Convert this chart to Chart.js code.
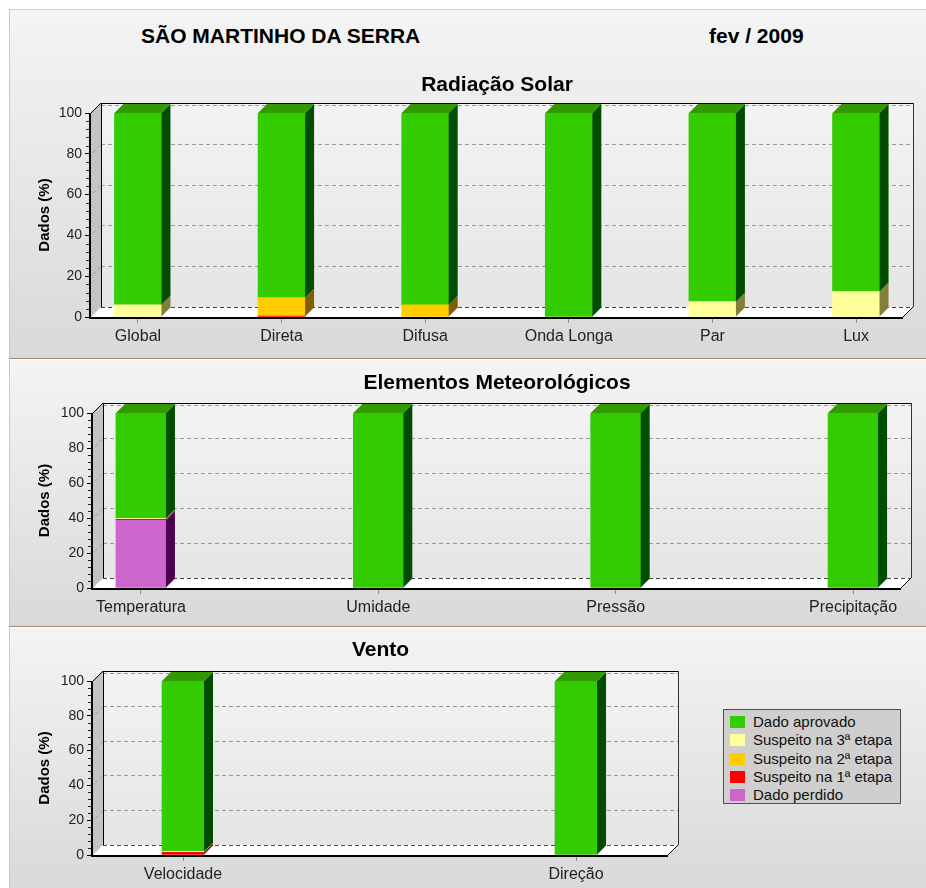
<!DOCTYPE html>
<html>
<head>
<meta charset="utf-8">
<script src="https://cdn.jsdelivr.net/npm/chart.js@4.4.1/dist/chart.umd.min.js"></script>
<style>
  body { margin: 0; background: #fff; font-family: "Liberation Sans", Arial, sans-serif; }
  #wrap { position: relative; width: 926px; height: 888px; overflow: hidden; }
  .panel { position: absolute; left: 9px; width: 917px; box-sizing: border-box;
           background: linear-gradient(#f4f4f4, #d9d9d9); border-left: 1px solid #c8c8c8; }
  #p1 { top: 9px; height: 349px; border-top: 1px solid #d2d2d2; }
  #p2 { top: 360px; height: 266px; }
  #p3 { top: 628px; height: 260px; }
  .sep { position: absolute; left: 9px; width: 917px; height: 1px; background: #a08878; }
  .hdr { position: absolute; top: 24px; font-weight: bold; font-size: 21px; line-height: 24px; color: #000; }
  canvas { position: absolute; left: 9px; }
  #legend { position: absolute; left: 723px; top: 709px; width: 178px; height: 95px; box-sizing: border-box;
            background: #cfcfcf; border: 1px solid #505050; }
  .li { position: absolute; left: 6px; height: 19px; line-height: 19px; font-size: 15px; color: #111; white-space: nowrap; }
  .li span { display: inline-block; width: 15px; height: 12px; margin-right: 8px; vertical-align: -1px; }
</style>
</head>
<body>
<div id="wrap">
  <div class="panel" id="p1"></div>
  <div class="sep" style="top:358px"></div>
  <div class="panel" id="p2"></div>
  <div class="sep" style="top:626px"></div>
  <div class="panel" id="p3"></div>
  <div class="hdr" style="left:141px">SÃO MARTINHO DA SERRA</div>
  <div class="hdr" style="left:709px">fev / 2009</div>
  <canvas id="c1" width="917" height="300" style="top:58px"></canvas>
  <canvas id="c2" width="917" height="266" style="top:360px"></canvas>
  <canvas id="c3" width="917" height="260" style="top:628px"></canvas>
  <div id="legend"></div>
</div>
<script>
// series, bottom of stack first
const seriesNames = ['Dado perdido', 'Suspeito na 1ª etapa', 'Suspeito na 2ª etapa', 'Suspeito na 3ª etapa', 'Dado aprovado'];
const frontColors = ['#cc66cc', '#ff0000', '#ffcc00', '#ffff99', '#33cc00'];
const sideColors = ['#4d004d', '#800000', '#805f00', '#80803a', '#004d00'];
const topColors = ['#993399', '#cc0000', '#cc9900', '#cccc77', '#339900'];

const yTicks = [0, 20, 40, 60, 80, 100];

// Radiação Solar
const solarCats = ['Global', 'Direta', 'Difusa', 'Onda Longa', 'Par', 'Lux'];
const solarPerdido = [0, 0, 0, 0, 0, 0];
const solar1a = [0, 0.5, 0, 0, 0, 0];
const solar2a = [0, 9, 6, 0, 0, 0];
const solar3a = [6, 0, 0, 0, 7.5, 12.5];
const solarAprovado = [94, 90.5, 94, 100, 92.5, 87.5];

// Elementos Meteorológicos
const meteoCats = ['Temperatura', 'Umidade', 'Pressão', 'Precipitação'];
const meteoPerdido = [38.6, 0, 0, 0];
const meteo1a = [0.6, 0, 0, 0];
const meteo2a = [0, 0, 0, 0];
const meteo3a = [0.6, 0, 0, 0];
const meteoAprovado = [60.2, 100, 100, 100];

// Vento
const ventoCats = ['Velocidade', 'Direção'];
const ventoPerdido = [0, 0];
const vento1a = [1.5, 0];
const vento2a = [0, 0];
const vento3a = [0.5, 0];
const ventoAprovado = [98, 100];

function poly(ctx, pts) {
  ctx.beginPath();
  ctx.moveTo(pts[0][0], pts[0][1]);
  for (let i = 1; i < pts.length; i++) ctx.lineTo(pts[i][0], pts[i][1]);
  ctx.closePath();
  ctx.fill();
}

function line(ctx, x1, y1, x2, y2) {
  ctx.beginPath();
  ctx.moveTo(x1, y1);
  ctx.lineTo(x2, y2);
  ctx.stroke();
}

// fake 3D: walls and floor behind the bars, side/top faces after them
const threeD = {
  id: 'threeD',
  beforeDatasetsDraw(chart, args, opts) {
    const { ctx, chartArea: a, scales: { y } } = chart;
    const d = opts.wall;
    const L = Math.round(a.left), R = Math.round(a.right), T = Math.round(a.top), B = Math.round(a.bottom);
    ctx.save();
    // back wall
    const g = ctx.createLinearGradient(0, T - d, 0, B - d);
    g.addColorStop(0, '#f3f3f3');
    g.addColorStop(1, '#e5e5e5');
    ctx.fillStyle = g;
    ctx.fillRect(L + d, T - d, R - L, B - T);
    // left wall
    ctx.fillStyle = '#c4c4c4';
    poly(ctx, [[L, B], [L, T], [L + d, T - d], [L + d, B - d]]);
    // floor
    ctx.fillStyle = '#ffffff';
    poly(ctx, [[L, B], [L + d, B - d], [R + d, B - d], [R, B]]);

    // grid lines on the back wall
    ctx.lineWidth = 1;
    ctx.setLineDash([4, 3]);
    yTicks.forEach(v => {
      const py = Math.round(y.getPixelForValue(v)) - d + 0.5;
      if (v === 0) {
        ctx.strokeStyle = '#444';
        line(ctx, L + d, py, R + d, py);
      } else {
        ctx.strokeStyle = '#9a9a9a';
        line(ctx, L + d, v === 100 ? py + 2 : py, R + d, v === 100 ? py + 2 : py);
        line(ctx, L + 2, py + d - 2, L + d, py);
      }
    });
    ctx.setLineDash([]);

    // wall edges
    ctx.strokeStyle = '#000';
    line(ctx, L + d + 0.5, T - d, L + d + 0.5, B - d);
    line(ctx, L + d, T - d + 0.5, R + d, T - d + 0.5);
    ctx.strokeStyle = '#333';
    line(ctx, R + d + 0.5, T - d, R + d + 0.5, B - d);
    ctx.strokeStyle = '#000';
    line(ctx, L, T, L + d, T - d);
    line(ctx, R, B, R + d, B - d);
    ctx.restore();
  },
  afterDatasetsDraw(chart, args, opts) {
    const { ctx, chartArea: a, scales: { y } } = chart;
    const bd = opts.bar;
    const sets = chart.data.datasets;
    const n = sets[0].data.length;
    const topIdx = new Array(n).fill(-1);
    sets.forEach((ds, di) => ds.data.forEach((p, i) => { if (p.y > 0) topIdx[i] = di; }));
    ctx.save();
    sets.forEach((ds, di) => {
      chart.getDatasetMeta(di).data.forEach((el, i) => {
        if (!(ds.data[i].y > 0)) return;
        const { x, y: top, base, width } = el.getProps(['x', 'y', 'base', 'width'], true);
        const l = x - width / 2, r = x + width / 2;
        ctx.fillStyle = ds.sideColor;
        poly(ctx, [[r, top], [r + bd, top - bd], [r + bd, base - bd], [r, base]]);
        if (topIdx[i] === di) {
          ctx.fillStyle = ds.topColor;
          poly(ctx, [[l, top], [l + bd, top - bd], [r + bd, top - bd], [r, top]]);
        }
      });
    });
    // front frame: axis and floor edge
    const L = Math.round(a.left), R = Math.round(a.right), T = Math.round(a.top), B = Math.round(a.bottom);
    ctx.strokeStyle = '#000';
    ctx.lineWidth = 2;
    line(ctx, L - 1, T, L - 1, B + 2);
    line(ctx, L - 2, B + 1, R, B + 1);
    // minor ticks
    ctx.lineWidth = 1;
    ctx.strokeStyle = '#222';
    for (let v = 4; v < 100; v += 4) {
      if (v % 20 === 0) continue;
      const py = Math.round(y.getPixelForValue(v)) + 0.5;
      line(ctx, L - 5, py, L - 2, py);
    }
    ctx.restore();
  }
};

Chart.register(threeD);

function makeChart(id, cats, series, cfg) {
  const datasets = series.map((vals, k) => ({
    label: seriesNames[k],
    // zero segments are left out so nothing is painted for them
    data: vals.map((v, i) => ({ x: i, y: v > 0 ? v : null })),
    backgroundColor: frontColors[k],
    sideColor: sideColors[k],
    topColor: topColors[k],
    borderWidth: 0,
    barThickness: cfg.barWidth
  }));
  return new Chart(document.getElementById(id), {
    type: 'bar',
    data: { datasets },
    options: {
      responsive: false,
      animation: false,
      layout: { padding: { left: 0, right: cfg.padRight, top: 0, bottom: 0 } },
      plugins: {
        legend: { display: false },
        tooltip: { enabled: false },
        title: {
          display: true,
          text: cfg.title,
          fullSize: false,
          color: '#000',
          font: { family: '"Liberation Sans", Arial, sans-serif', size: 21, weight: 'bold' },
          padding: { top: cfg.titleTop, bottom: cfg.titleBottom }
        },
        threeD: { wall: 10, bar: 9 }
      },
      scales: {
        x: {
          type: 'linear',
          stacked: true,
          offset: false,
          min: cfg.xMin,
          max: cfg.xMax,
          afterBuildTicks: s => { s.ticks = cats.map((c, i) => ({ value: i })); },
          afterFit: s => { s.height = cfg.xHeight; },
          border: { display: false },
          grid: { offset: false, drawOnChartArea: false, drawTicks: true, tickLength: 6, color: '#8a8a8a' },
          ticks: {
            callback: v => cats[v] ?? '',
            autoSkip: false,
            maxRotation: 0,
            padding: 4,
            color: '#222',
            font: { family: '"Liberation Sans", Arial, sans-serif', size: 16 }
          }
        },
        y: {
          stacked: true,
          min: 0,
          max: 100,
          afterBuildTicks: s => { s.ticks = yTicks.map(v => ({ value: v })); },
          afterFit: s => { s.width = cfg.yWidth; },
          border: { display: false },
          grid: { drawOnChartArea: false, drawTicks: true, tickLength: 6, color: '#000' },
          ticks: {
            padding: 3,
            color: '#222',
            font: { family: '"Liberation Sans", Arial, sans-serif', size: 14 }
          },
          title: {
            display: true,
            text: 'Dados (%)',
            color: '#000',
            font: { family: '"Liberation Sans", Arial, sans-serif', size: 15, weight: 'bold' },
            padding: { top: 27, bottom: 0 }
          }
        }
      }
    }
  });
}

makeChart('c1', solarCats, [solarPerdido, solar1a, solar2a, solar3a, solarAprovado], {
  title: 'Radiação Solar', titleTop: 14.4, titleBottom: 15.4, xHeight: 41, yWidth: 82,
  padRight: 23, xMin: -0.327, xMax: 5.327, barWidth: 47
});
makeChart('c2', meteoCats, [meteoPerdido, meteo1a, meteo2a, meteo3a, meteoAprovado], {
  title: 'Elementos Meteorológicos', titleTop: 10.4, titleBottom: 17.4, xHeight: 38, yWidth: 84,
  padRight: 25, xMin: -0.202, xMax: 3.202, barWidth: 50
});
makeChart('c3', ventoCats, [ventoPerdido, vento1a, vento2a, vento3a, ventoAprovado], {
  title: 'Vento', titleTop: 9.4, titleBottom: 18.4, xHeight: 33, yWidth: 84,
  padRight: 258, xMin: -0.229, xMax: 1.234, barWidth: 42
});

// legend, top entry = top of the stack
const legend = document.getElementById('legend');
seriesNames.slice().reverse().forEach((name, i) => {
  const k = seriesNames.length - 1 - i;
  const row = document.createElement('div');
  row.className = 'li';
  row.style.top = (2 + i * 18.3) + 'px';
  row.innerHTML = '<span style="background:' + frontColors[k] + '"></span>' + name;
  legend.appendChild(row);
});
</script>
</body>
</html>
